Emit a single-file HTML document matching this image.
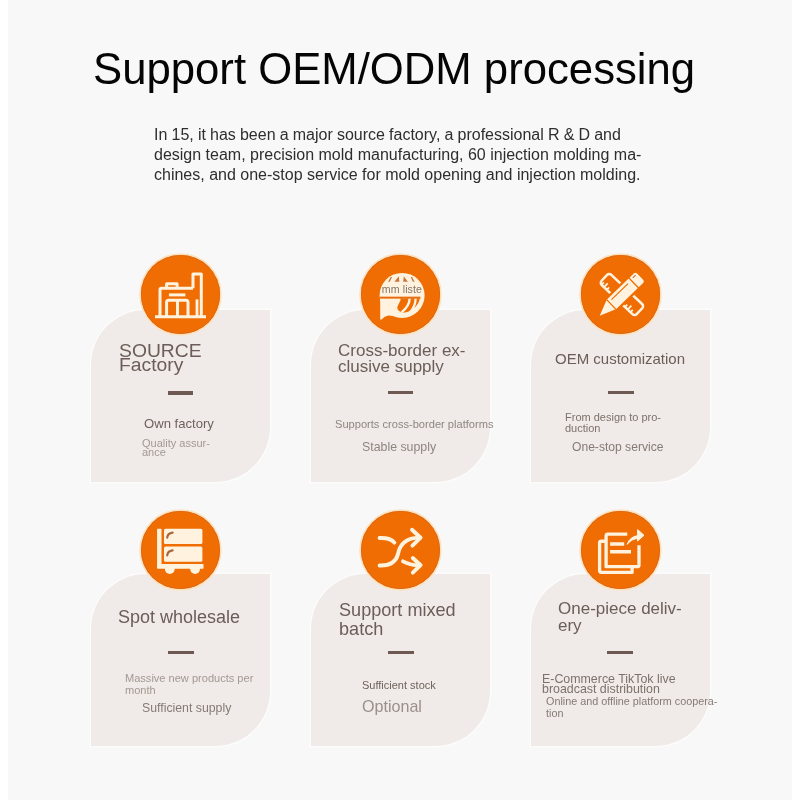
<!DOCTYPE html>
<html><head><meta charset="utf-8">
<style>
html,body{margin:0;padding:0;width:800px;height:800px;overflow:hidden;background:#ffffff;}
body{position:relative;font-family:"Liberation Sans",sans-serif;}
.bg{position:absolute;left:8px;top:0;width:784px;height:800px;background:#f8f8f8;}
.card{position:absolute;background:#f0ebe8;border-radius:55px 0 55px 0;box-shadow:0 0 0 1.5px rgba(255,255,255,0.5);}
.circ{position:absolute;border-radius:50%;background:#ef6d02;box-shadow:0 0 0 1.8px #ffe2bd, inset 0 0 0 0.8px #d8681a;}
.tx{position:absolute;white-space:nowrap;margin:0;will-change:transform;}
.dash{position:absolute;background:#6e5a52;}
svg.ic{position:absolute;overflow:visible;will-change:transform;}
</style></head><body>
<div class="bg"></div>
<div class="card" style="left:90.5px;top:310px;width:179px;height:172px"></div>
<div class="card" style="left:310.5px;top:310px;width:179px;height:172px"></div>
<div class="card" style="left:530.5px;top:310px;width:179px;height:172px"></div>
<div class="card" style="left:90.5px;top:573.5px;width:179px;height:172px"></div>
<div class="card" style="left:310.5px;top:573.5px;width:179px;height:172px"></div>
<div class="card" style="left:530.5px;top:573.5px;width:179px;height:172px"></div>
<div class="circ" style="left:141.20px;top:255.30px;width:78.60px;height:78.60px"></div>
<svg class="ic" width="1" height="1" style="left:180.50px;top:294.60px"><g fill="none" stroke="#fff3df" stroke-width="3" stroke-linejoin="round">
<path d="M-26 21.7 H25"/>
<path d="M-21 21.7 V-5.2 Q-21 -6.85 -19.4 -6.85 H12"/>
<path d="M12 -6.85 V-21.1 H20.3 V21.7"/>
<path d="M-14.4 -6.85 V-11.35 H-3.9 V-6.85"/>
<path d="M-12.1 -0.1 H4.4" stroke-width="3"/>
<path d="M-14.4 21.7 V7.2 Q-14.4 5.2 -12.4 5.2 H5 Q7 5.2 7 7.2 V21.7"/>
<path d="M-3.5 5.2 V21.7"/>
<path d="M16 4.4 V21.7" stroke-width="2.8"/>
</g></svg>
<div class="circ" style="left:361.45px;top:255.30px;width:78.60px;height:78.60px"></div>
<svg class="ic" width="1" height="1" style="left:400.75px;top:294.60px"><g>
<circle cx="1.1" cy="0.4" r="22.5" fill="#fff3df"/>
<path d="M-16.6 3.8 H18.8 A18.2 18.2 0 0 1 -16.6 3.8 Z" fill="#ef6d02"/>
<rect x="-21.2" y="1.65" width="40.6" height="2.2" fill="#e86c10"/>
<path d="M-12.9 -13.2 L-10.2 -18.2 L-9 -17.8 L-11.2 -13.2 Z M-6.6 -13.2 L-2.2 -18.8 L-1.6 -13.2 Z M2.2 -13.2 L2.8 -18.8 L6.8 -13.2 Z M9.8 -17.8 L11 -18.2 L13.6 -13.2 L11.8 -13.2 Z" fill="#c8773c"/>
<path d="M8.6 3.8 Q8.4 11 0.6 17.4 M14.6 3.8 Q14.4 12 8.2 18.4" stroke="#fff3df" stroke-width="2.4" fill="none"/>
<path d="M-20.8 3.8 H-1.2 Q0.2 3.8 -0.6 5.6 L-3.4 11.2 Q-4.6 14.6 -1 16.6 Q2 18.4 4 18.6 L3 21 Q-4 21.8 -12.6 20.6 Q-16.4 21 -19.4 24.4 L-20.8 24.4 Z" fill="#fff3df"/>
<text x="0.9" y="-2.1" font-size="10.6" fill="#857569" text-anchor="middle" font-family="Liberation Sans" letter-spacing="0.1">mm liste</text>
</g></svg>
<div class="circ" style="left:581.30px;top:255.30px;width:78.60px;height:78.60px"></div>
<svg class="ic" width="1" height="1" style="left:620.60px;top:294.60px"><g>
<g transform="translate(0.9 -0.5) rotate(43.5)">
<rect x="-24.2" y="-7" width="48.4" height="14" rx="3" fill="none" stroke="#fff3df" stroke-width="2.5"/>
<path d="M-18 7 V1.6 M-14.2 7 V3.6 M-21.4 7 V3.6 M14.6 7 V1.6 M18.4 7 V3.6 M10.8 7 V3.6" stroke="#fff3df" stroke-width="1.8"/>
</g>
<g transform="translate(-1.4 1.5) rotate(-44)">
<path d="M-30.6 0 L-11.5 -7.8 H26.2 Q29.6 -7.8 29.6 -4.4 V4.4 Q29.6 7.8 26.2 7.8 H-11.5 Z" fill="#fff3df" stroke="#ef6d02" stroke-width="2.2" stroke-linejoin="round"/>
<path d="M-11.5 -7.8 V7.8 M19.6 -7.8 V7.8" stroke="#ef6d02" stroke-width="1.3"/>
<path d="M-8 -3.4 H15" stroke="#ef6d02" stroke-width="1.2"/>
<path d="M22.4 -4.2 H26.4" stroke="#c8773c" stroke-width="1.2"/>
</g>
</g></svg>
<div class="circ" style="left:141.10px;top:510.70px;width:78.60px;height:78.60px"></div>
<svg class="ic" width="1" height="1" style="left:180.40px;top:550.00px"><g fill="#fff3df">
<rect x="-22.9" y="-21.2" width="4.4" height="38.9" rx="0.6"/>
<rect x="-22.9" y="13.9" width="46.4" height="4.8" rx="0.6"/>
<rect x="-16.0" y="-21.2" width="38.4" height="15.2" rx="1.6"/>
<rect x="-16.0" y="-3.6" width="38.4" height="15.4" rx="1.6"/>
<circle cx="-10.2" cy="19" r="4.9"/>
<circle cx="15.1" cy="19" r="4.9"/>
<path d="M-12.8 -12.4 Q-12.4 -16.8 -7.4 -17.4 M-12.8 5.4 Q-12.4 1.0 -7.4 0.4" stroke="#a9653c" stroke-width="2.2" fill="none" stroke-linecap="round"/>
</g></svg>
<div class="circ" style="left:361.45px;top:510.50px;width:78.60px;height:78.60px"></div>
<svg class="ic" width="1" height="1" style="left:400.75px;top:549.80px"><g fill="none" stroke="#fff3df" stroke-width="3.9" stroke-linecap="round" stroke-linejoin="round">
<path d="M-21.4 -12.0 Q-10.6 -12.4 -6.6 -7.4"/>
<path d="M-21.4 15.5 Q-6 16 -3 4 Q0 -12 18 -12.4"/>
<path d="M2 11.4 Q9 15.2 18 15.4"/>
<path d="M11.0 -20.2 L19.6 -12.3 L11.4 -4.3"/>
<path d="M11.8 8.0 L19.6 15.2 L11.8 22.6"/>
</g></svg>
<div class="circ" style="left:581.45px;top:510.50px;width:78.60px;height:78.60px"></div>
<svg class="ic" width="1" height="1" style="left:620.75px;top:549.80px"><g fill="none" stroke="#fff3df" stroke-width="3.3" stroke-linejoin="round">
<path d="M-14.9 -8.75 H-19.6 Q-21.4 -8.75 -21.4 -7 V20.6 Q-21.4 22.4 -19.6 22.4 H11.1 V16.7"/>
<path d="M6.3 -15.8 H-13.2 Q-14.9 -15.8 -14.9 -14 V16.7 H16.2 Q18 16.7 18 14.9 V-4.8"/>
<path d="M-10.9 -6.0 H3.2 M-10.9 1.8 H10.0" stroke-width="3.6" stroke-linejoin="miter"/>
<path d="M6.2 -5.6 Q9 -13.6 17.4 -14.4 L17.8 -11.6 Q10.6 -11.4 6.2 -5.6 Z" fill="#fff3df" stroke-width="1"/>
<path d="M16.6 -20.4 L23 -14.7 L16.6 -9 Z" fill="#fff3df" stroke-width="1"/>
</g></svg>
<div class="dash" style="left:167.75px;top:391px;width:25.5px;height:3.8px"></div>
<div class="dash" style="left:387.75px;top:390.7px;width:25.5px;height:3.8px"></div>
<div class="dash" style="left:608px;top:390.5px;width:25.5px;height:3.8px"></div>
<div class="dash" style="left:168px;top:650.6px;width:25.5px;height:3.8px"></div>
<div class="dash" style="left:388px;top:650.6px;width:25.5px;height:3.8px"></div>
<div class="dash" style="left:607px;top:650.6px;width:25.5px;height:3.8px"></div>
<div class="tx" id="t_title" style="left:93px;top:44px;font-size:43.7px;line-height:50px;color:#050505;">Support OEM/ODM processing</div>
<div class="tx" id="t_para" style="left:153.5px;top:125px;font-size:16px;line-height:19.85px;color:#2e2e2e;"><span style='word-spacing:-0.3px'>In 15, it has been a major source factory, a professional R &amp; D and</span><br>design team, precision mold manufacturing, 60 injection molding ma-<br>chines, and one-stop service for mold opening and injection molding.</div>
<div class="tx" id="c1_t" style="left:119.1px;top:344px;font-size:18.8px;line-height:14.1px;color:#6b5d58;transform:scaleX(1.028);transform-origin:0 0;">SOURCE<br>Factory</div>
<div class="tx" id="c1_a" style="left:144.2px;top:417px;font-size:13.1px;line-height:14px;color:#6e625d;">Own factory</div>
<div class="tx" id="c1_b" style="left:142.2px;top:439px;font-size:11px;line-height:8.6px;color:#a39893;">Quality assur-<br>ance</div>
<div class="tx" id="c2_t" style="left:338.2px;top:343px;font-size:17px;line-height:15.6px;color:#6b5d58;">Cross-border ex-<br>clusive supply</div>
<div class="tx" id="c2_a" style="left:335.2px;top:417px;font-size:11.1px;line-height:14px;color:#8f8580;">Supports cross-border platforms</div>
<div class="tx" id="c2_b" style="left:362.0px;top:440px;font-size:12.35px;line-height:14px;color:#8f8580;">Stable supply</div>
<div class="tx" id="c3_t" style="left:554.6px;top:351px;font-size:15px;line-height:16px;color:#6b5d58;">OEM customization</div>
<div class="tx" id="c3_a" style="left:564.6px;top:412px;font-size:11px;line-height:11.4px;color:#7d716c;">From design to pro-<br>duction</div>
<div class="tx" id="c3_b" style="left:572.4px;top:440px;font-size:12.1px;line-height:14px;color:#857a75;">One-stop service</div>
<div class="tx" id="c4_t" style="left:118.1px;top:608px;font-size:18px;line-height:18px;color:#6b5d58;">Spot wholesale</div>
<div class="tx" id="c4_a" style="left:125.4px;top:673px;font-size:11.05px;line-height:11.6px;color:#a39893;">Massive new products per<br>month</div>
<div class="tx" id="c4_b" style="left:142.2px;top:701px;font-size:12.3px;line-height:14px;color:#857a75;">Sufficient supply</div>
<div class="tx" id="c5_t" style="left:338.9px;top:601px;font-size:18.1px;line-height:18.6px;color:#6b5d58;">Support mixed<br>batch</div>
<div class="tx" id="c5_a" style="left:362.2px;top:679px;font-size:11px;line-height:12px;color:#6f625d;">Sufficient stock</div>
<div class="tx" id="c5_b" style="left:362.0px;top:698px;font-size:16.1px;line-height:16px;color:#9a908b;">Optional</div>
<div class="tx" id="c6_t" style="left:558.0px;top:600px;font-size:17px;line-height:17px;color:#6b5d58;">One-piece deliv-<br>ery</div>
<div class="tx" id="c6_a" style="left:541.9px;top:674px;font-size:12.4px;line-height:10px;color:#7d716c;">E-Commerce TikTok live<br>broadcast distribution</div>
<div class="tx" id="c6_b" style="left:545.5px;top:696px;font-size:10.8px;line-height:11.6px;color:#857a75;">Online and offline platform coopera-<br>tion</div>
</body></html>
